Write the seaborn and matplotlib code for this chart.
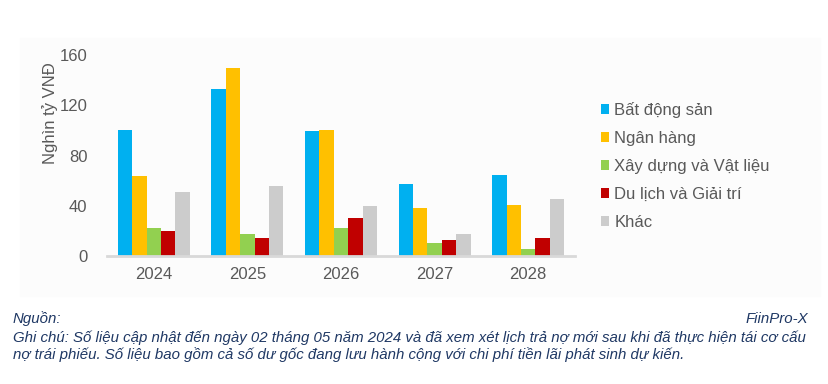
import pandas as pd
import seaborn as sns
import matplotlib.pyplot as plt
from matplotlib.patches import Rectangle

# Dữ liệu (nghìn tỷ VNĐ)
years = ['2024', '2025', '2026', '2027', '2028']
sectors = ['Bất động sản', 'Ngân hàng', 'Xây dựng và Vật liệu', 'Du lịch và Giải trí', 'Khác']
bat_dong_san = [100, 133, 99.5, 57, 64.5]
ngan_hang = [64, 150, 100.3, 38, 40.5]
xay_dung = [22.5, 17.3, 22.6, 10.3, 5.6]
du_lich = [19.6, 14.6, 30.2, 12.4, 14.6]
khac = [50.7, 55.7, 39.8, 17.4, 45.3]
colors = ['#00b0f0', '#ffc000', '#92d050', '#c00000', '#cccccc']

sns.set_style('white')
plt.rcParams['font.family'] = ['Liberation Sans', 'DejaVu Sans']

rows = []
for name, vals in zip(sectors, [bat_dong_san, ngan_hang, xay_dung, du_lich, khac]):
    for y, v in zip(years, vals):
        rows.append({'Năm': y, 'Ngành': name, 'Giá trị': v})
df = pd.DataFrame(rows)

fig = plt.figure(figsize=(8.29, 3.84), dpi=100)
# nền xám rất nhạt của vùng biểu đồ
fig.patches.append(Rectangle((20 / 829, 1 - 296 / 384), 800 / 829, 258 / 384,
                             transform=fig.transFigure, color='#fcfcfc', zorder=-1))

ax = fig.add_axes([107 / 829, 128 / 384, 468 / 829, 201 / 384])
ax.set_facecolor('none')
sns.barplot(data=df, x='Năm', y='Giá trị', hue='Ngành', palette=colors,
            width=0.77, linewidth=0, saturation=1, ax=ax)

ax.set_ylim(0, 160)
ax.set_xlim(-0.5, 4.5)
ax.set_yticks([0, 40, 80, 120, 160])
ax.tick_params(axis='both', labelsize=12, colors='#595959', length=0, pad=8)
ax.tick_params(axis='y', pad=14)
for s in ['top', 'right', 'left']:
    ax.spines[s].set_visible(False)
ax.spines['bottom'].set_color('#d9d9d9')
ax.spines['bottom'].set_linewidth(2)
ax.set_xlabel('')
ax.set_ylabel('Nghìn tỷ VNĐ', fontsize=12, color='#595959')
ax.yaxis.set_label_coords(-0.105, 0.711)

ax.legend(loc='center left', bbox_to_anchor=(586 / 829, 1 - 166 / 384),
          bbox_transform=fig.transFigure, frameon=False, fontsize=12,
          labelcolor='#595959', handlelength=0.5, handleheight=0.5,
          handletextpad=0.3, labelspacing=0.78)

navy = '#1f3864'
fig.text(13 / 829, 1 - 319 / 384, 'Nguồn:', fontsize=10.85, style='italic',
         color=navy, va='center', ha='left')
fig.text(808 / 829, 1 - 319 / 384, 'FiinPro-X', fontsize=10.85, style='italic',
         color=navy, va='center', ha='right')
fig.text(13 / 829, 1 - 338 / 384,
         'Ghi chú: Số liệu cập nhật đến ngày 02 tháng 05 năm 2024 và đã xem xét lịch trả nợ mới sau khi đã thực hiện tái cơ cấu',
         fontsize=10.85, style='italic', color=navy, va='center', ha='left')
fig.text(13 / 829, 1 - 355 / 384,
         'nợ trái phiếu. Số liệu bao gồm cả số dư gốc đang lưu hành cộng với chi phí tiền lãi phát sinh dự kiến.',
         fontsize=10.85, style='italic', color=navy, va='center', ha='left')

fig.savefig('out.png', dpi=100)
